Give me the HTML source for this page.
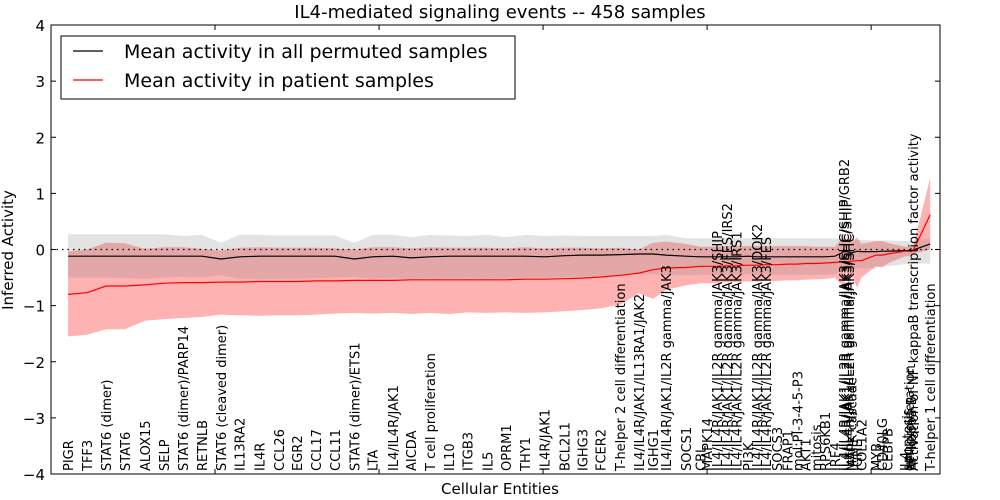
<!DOCTYPE html>
<html><head><meta charset="utf-8"><style>
html,body{margin:0;padding:0;background:#fff;}
svg{display:block;font-family:"DejaVu Sans","Liberation Sans",sans-serif;}
</style></head><body>
<svg id="chart" width="1000" height="500">
<text x="500" y="18" font-size="18" text-anchor="middle">IL4-mediated signaling events -- 458 samples</text>
<text x="500" y="494" font-size="15" text-anchor="middle">Cellular Entities</text>
<text transform="translate(13,250) rotate(-90)" font-size="15" text-anchor="middle">Inferred Activity</text>
<g id="plot"></g>
<g id="legend">
<rect x="61" y="36" width="454" height="63" fill="#fff" stroke="#000" stroke-width="1"/>
<line x1="73" y1="51" x2="103" y2="51" stroke="#000" stroke-width="1.2"/>
<text x="124" y="58" font-size="19">Mean activity in all permuted samples</text>
<line x1="73" y1="80" x2="103" y2="80" stroke="#f00" stroke-width="1.2"/>
<text x="124" y="87" font-size="19">Mean activity in patient samples</text>
</g>
</svg>
<script>
const labels=["PIGR","TFF3","STAT6 (dimer)","STAT6","ALOX15","SELP","STAT6 (dimer)/PARP14","RETNLB","STAT6 (cleaved dimer)","IL13RA2","IL4R","CCL26","EGR2","CCL17","CCL11","STAT6 (dimer)/ETS1","LTA","IL4/IL4R/JAK1","AICDA","T cell proliferation","IL10","ITGB3","IL5","OPRM1","THY1","IL4R/JAK1","BCL2L1","IGHG3","FCER2","T-helper 2 cell differentiation","IL4/IL4R/JAK1/IL13RA1/JAK2","IGHG1","IL4/IL4R/JAK1/IL2R gamma/JAK3","SOCS1","CBL","MAPK14","IL4/IL4R/JAK1/IL2R gamma/JAK3/SHIP","IL4/IL4R/JAK1/IL2R gamma/JAK3/FES/IRS2","IL4/IL4R/JAK1/IL2R gamma/JAK3/IRS1","PI3K","IL4/IL4R/JAK1/IL2R gamma/JAK3/DOK2","IL4/IL4R/JAK1/IL2R gamma/JAK3/FES","SOCS3","FRAP1","mol:PI-3-4-5-P3","AKT1","mitosis","RPS6KB1","IRF4","IL4/IL4R/JAK1/IL2R gamma/JAK3/SHC/SHIP/GRB2","IL4/IL4R/JAK1/IL2R gamma/JAK3/SHC/SHIP","IL4/IL4R/JAK1/IL2R gamma/JAK3/SHC","MAPK cascade","IGHE","COL1A2","MYB","CD40LG","CEBPB","IL4","apoptosis","cell proliferation","NF-kappa B","Activation of NF-kappaB transcription factor activity","T-helper 1 cell differentiation"];
const positions=[1.04,2.2,3.35,4.5,5.73,6.9,8.05,9.2,10.37,11.5,12.7,13.9,15.0,16.16,17.3,18.5,19.6,20.85,21.95,23.1,24.27,25.4,26.6,27.74,28.9,30.1,31.3,32.4,33.5,34.7,35.85,36.7,37.5,38.7,39.6,40.0,40.6,41.2,41.8,42.5,43.05,43.6,44.27,44.9,45.5,46.0,46.65,47.2,47.8,48.35,48.5,48.66,48.8,49.15,49.4,50.3,50.67,51.0,52.07,52.2,52.3,52.44,52.56,53.6];
const permMean=[-0.12,-0.12,-0.12,-0.12,-0.12,-0.12,-0.12,-0.12,-0.17,-0.13,-0.12,-0.12,-0.12,-0.12,-0.12,-0.17,-0.13,-0.12,-0.15,-0.13,-0.12,-0.12,-0.12,-0.12,-0.12,-0.13,-0.11,-0.1,-0.1,-0.09,-0.08,-0.08,-0.1,-0.12,-0.13,-0.13,-0.13,-0.13,-0.13,-0.12,-0.13,-0.13,-0.13,-0.13,-0.13,-0.13,-0.13,-0.13,-0.12,-0.04,-0.04,-0.05,-0.06,-0.03,-0.04,-0.04,-0.03,-0.03,-0.02,-0.02,-0.02,-0.02,-0.01,0.1];
const permLow=[-0.5,-0.5,-0.5,-0.51,-0.52,-0.5,-0.49,-0.5,-0.46,-0.52,-0.53,-0.52,-0.52,-0.51,-0.5,-0.49,-0.52,-0.5,-0.53,-0.5,-0.51,-0.5,-0.52,-0.5,-0.5,-0.5,-0.49,-0.48,-0.47,-0.46,-0.44,-0.44,-0.46,-0.46,-0.45,-0.45,-0.45,-0.45,-0.45,-0.44,-0.45,-0.45,-0.45,-0.45,-0.45,-0.45,-0.45,-0.45,-0.44,-0.35,-0.35,-0.36,-0.36,-0.33,-0.34,-0.32,-0.3,-0.3,-0.26,-0.26,-0.26,-0.26,-0.25,-0.25];
const permHigh=[0.27,0.27,0.27,0.27,0.27,0.27,0.24,0.26,0.12,0.26,0.26,0.25,0.25,0.25,0.25,0.12,0.26,0.26,0.22,0.26,0.25,0.24,0.26,0.22,0.26,0.24,0.25,0.24,0.24,0.24,0.24,0.24,0.26,0.2,0.2,0.2,0.2,0.2,0.2,0.2,0.2,0.2,0.2,0.2,0.2,0.2,0.2,0.2,0.2,0.18,0.17,0.17,0.17,0.17,0.17,0.16,0.16,0.16,0.15,0.15,0.15,0.15,0.15,0.2];
const patMean=[-0.8,-0.77,-0.65,-0.65,-0.63,-0.6,-0.59,-0.59,-0.58,-0.58,-0.57,-0.57,-0.57,-0.56,-0.56,-0.55,-0.55,-0.55,-0.54,-0.54,-0.54,-0.54,-0.54,-0.54,-0.53,-0.53,-0.52,-0.51,-0.49,-0.46,-0.42,-0.36,-0.33,-0.32,-0.3,-0.3,-0.3,-0.29,-0.29,-0.28,-0.28,-0.27,-0.27,-0.26,-0.26,-0.25,-0.25,-0.24,-0.23,-0.22,-0.22,-0.21,-0.21,-0.2,-0.2,-0.1,-0.1,-0.08,-0.03,-0.03,-0.03,-0.02,-0.02,0.62];
const patLow=[-1.55,-1.52,-1.42,-1.42,-1.27,-1.24,-1.22,-1.2,-1.16,-1.17,-1.18,-1.17,-1.17,-1.16,-1.14,-1.13,-1.14,-1.13,-1.15,-1.13,-1.15,-1.12,-1.13,-1.12,-1.13,-1.12,-1.1,-1.08,-1.05,-0.98,-0.78,-0.88,-0.72,-0.64,-0.6,-0.6,-0.6,-0.58,-0.58,-0.57,-0.57,-0.56,-0.56,-0.55,-0.55,-0.54,-0.53,-0.52,-0.5,-0.68,-0.4,-0.68,-0.45,-0.68,-0.5,-0.3,-0.32,-0.25,-0.12,-0.12,-0.12,-0.1,-0.08,0.0];
const patHigh=[-0.03,0.0,0.12,0.11,0.01,0.04,0.04,0.01,-0.02,0.03,0.04,0.03,0.03,0.03,0.02,0.0,0.04,0.04,0.02,0.04,0.03,0.03,0.03,0.02,0.04,0.02,0.03,0.03,0.02,0.03,0.0,0.12,0.14,0.1,0.05,0.05,0.05,0.06,0.06,0.06,0.06,0.06,0.06,0.06,0.06,0.06,0.05,0.05,0.05,0.25,0.12,0.22,0.12,0.22,0.1,0.15,0.15,0.12,0.05,0.05,0.05,0.05,0.05,1.28];
const yTicks=[-4,-3,-2,-1,0,1,2,3,4];
const xTicks=[0,10,20,30,40,50];

const X0=51,X1=940,Y0=25,Y1=474,XMAX=54.2;
const xs=v=>X0+v/XMAX*(X1-X0);
const ys=v=>Y0+(4-v)/8*(Y1-Y0);
const NS="http://www.w3.org/2000/svg";
const plot=document.getElementById('plot');
function mk(tag,attrs,parent){const e=document.createElementNS(NS,tag);for(const k in attrs)e.setAttribute(k,attrs[k]);(parent||plot).appendChild(e);return e;}
function band(lo,hi,fill,name){
  let d="M"+positions.map((p,i)=>xs(p).toFixed(1)+","+ys(hi[i]).toFixed(1)).join("L");
  for(let i=positions.length-1;i>=0;i--)d+="L"+xs(positions[i]).toFixed(1)+","+ys(lo[i]).toFixed(1);
  const e=mk('path',{d:d+"Z",fill:fill,stroke:'none'});
  
  
}
function line(vals,color,name){
  const e=mk('polyline',{points:positions.map((p,i)=>xs(p).toFixed(1)+","+ys(vals[i]).toFixed(1)).join(" "),fill:'none',stroke:color,'stroke-width':1.2});
  
  
}
band(patLow,patHigh,'rgba(255,0,0,0.3)','patient-range-band');
band(permLow,permHigh,'rgba(128,128,128,0.22)','permuted-range-band');
const zl=mk('line',{x1:X0,x2:X1,y1:ys(0),y2:ys(0),stroke:'#000','stroke-dasharray':'1.5,4','stroke-width':1.2});


line(permMean,'#000','permuted-mean-line');
line(patMean,'#f00','patient-mean-line');
labels.forEach((t,i)=>{
  const x=xs(positions[i])+5;
  const e=mk('text',{transform:`translate(${x.toFixed(1)},471) rotate(-90)`,'font-size':13});
  e.textContent=t;
  
  
});
const frame=mk('rect',{x:X0,y:Y0,width:X1-X0,height:Y1-Y0,fill:'none',stroke:'#000','stroke-width':1});


yTicks.forEach(v=>{
  const y=ys(v);
  mk('line',{x1:X0,x2:X0+5,y1:y,y2:y,stroke:'#000'});
  mk('line',{x1:X1-5,x2:X1,y1:y,y2:y,stroke:'#000'});
  const t=mk('text',{x:45,y:y+6,'font-size':15,'text-anchor':'end'});
  t.textContent=(v<0?"\u2212":"")+Math.abs(v);
  
  
});
xTicks.forEach(v=>{
  const x=xs(v);
  mk('line',{x1:x,x2:x,y1:Y0,y2:Y0+5,stroke:'#000'});
  mk('line',{x1:x,x2:x,y1:Y1-5,y2:Y1,stroke:'#000'});
});
</script>
</body></html>
